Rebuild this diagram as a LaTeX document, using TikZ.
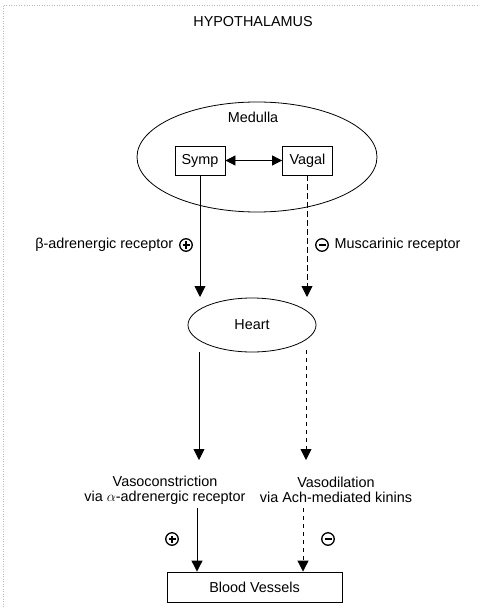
\documentclass[tikz,border=0pt]{standalone}
\usepackage{fontspec}
\setmainfont{Liberation Sans}
\usetikzlibrary{arrows.meta, shapes.geometric}

\begin{document}
\begin{tikzpicture}[x=1pt, y=-1pt, line width=0.8pt,
  font=\fontsize{14.4}{15}\selectfont,
  box/.style={draw, minimum width=50pt, minimum height=29pt, inner sep=0pt},
  oval/.style={draw, ellipse, inner sep=0pt},
  arr/.style={-{Triangle[length=11pt, width=11pt]}},
  vdash/.style={arr, dash pattern=on 6pt off 3pt},
  vdot/.style={arr, dash pattern=on 4pt off 4pt},
  sgn/.style={circle, draw, line width=1.3pt, minimum size=12.5pt, inner sep=0pt},
  sgnplus/.style={sgn, path picture={\draw[line width=2pt]
    ([xshift=-3.5pt]path picture bounding box.center) -- ([xshift=3.5pt]path picture bounding box.center)
    ([yshift=-3.5pt]path picture bounding box.center) -- ([yshift=3.5pt]path picture bounding box.center);}},
  sgnminus/.style={sgn, path picture={\draw[line width=2pt]
    ([xshift=-3.5pt]path picture bounding box.center) -- ([xshift=3.5pt]path picture bounding box.center);}}]
  \useasboundingbox (0,0) rectangle (479,609);
  % scan border, top and left only
  \draw[gray!55, line width=0.5pt, dotted] (3,609) -- (3,5) -- (479,5);

  \node (hypo) at (253,22) {HYPOTHALAMUS};

  % medulla with the two centres
  \node[oval, minimum width=240pt, minimum height=110pt] (medulla) at (257,157) {};
  \node (medlbl) at (253,117) {Medulla};
  \node[box] (symp) at (200,160.5) {Symp};
  \node[box] (vagal) at (307.5,160.5) {Vagal};
  \draw[{Triangle[length=10pt, width=10pt]}-{Triangle[length=10pt, width=10pt]}] (symp) -- (vagal);

  \node[oval, minimum width=128pt, minimum height=54pt] (heart) at (252,325) {Heart};
  \node[draw, minimum width=175pt, minimum height=30pt, inner sep=0pt] (vessels) at (254.5,587) {Blood Vessels};

  \node[align=center] (vasoc) at (165,490) {Vasoconstriction\\via $\alpha$-adrenergic receptor};
  \node[align=center] (vasod) at (336,490) {Vasodilation\\via Ach-mediated kinins};

  % arrow ends
  \coordinate (s1) at (200,297);
  \coordinate (v1) at (307,297);
  \coordinate (s2) at (199,352);
  \coordinate (v2) at (306,350);
  \coordinate (s3) at (199,460);
  \coordinate (v3) at (306,460);
  \coordinate (s4) at (197,508);
  \coordinate (v4) at (303,508);

  \draw[arr] (symp.south) -- (s1);
  \draw[vdash] (vagal.south -| v1) -- (v1);
  \draw[arr] (s2) -- (s3);
  \draw[vdot] (v2) -- (v3);
  \draw[arr] (s4) -- (s4 |- vessels.north);
  \draw[vdot] (v4) -- (v4 |- vessels.north);

  % receptor labels and signs
  \node[sgnplus] (p1) at (186,245) {};
  \node[anchor=east] (beta) at (177,245) {β-adrenergic receptor};
  \node[sgnminus] (m1) at (322,245) {};
  \node[anchor=west] (musc) at (331,245) {Muscarinic receptor};
  \node[sgnplus] (p2) at (172,539) {};
  \node[sgnminus] (m2) at (328,539) {};
\end{tikzpicture}
\end{document}
